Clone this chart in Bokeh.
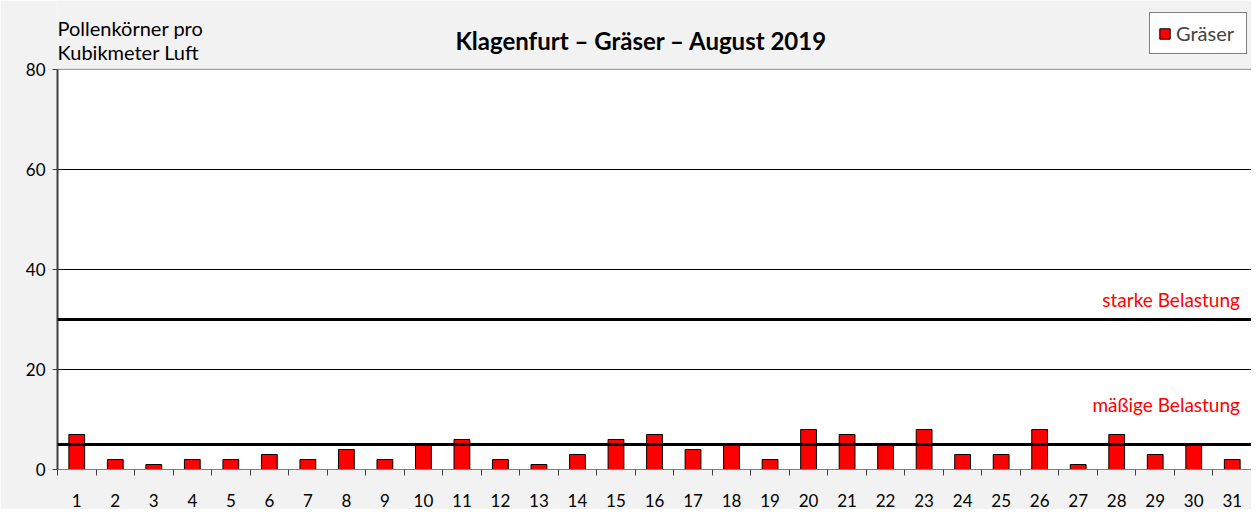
from bokeh.plotting import figure
from bokeh.models import (ColumnDataSource, FixedTicker, Span, Label, Legend, LegendItem, Range1d)
from bokeh.embed import file_html
from bokeh.resources import INLINE

days = list(range(1, 32))
graeser = [7, 2, 1, 2, 2, 3, 2, 4, 2, 5, 6, 2, 1, 3, 6, 7, 4, 5, 2, 8,
           7, 5, 8, 3, 3, 8, 1, 7, 3, 5, 2]
y_ticks = [0, 20, 40, 60, 80]
y_max = 80
thresholds = [30, 5]
threshold_labels = ["starke Belastung", "mäßige Belastung"]
title_text = "Klagenfurt – Gräser – August 2019"
ylabel_lines = ["Pollenkörner pro", "Kubikmeter Luft"]

FONT = "Lato"
BG = "#F2F2F2"

W, H = 1251, 509
LEFT, BOTTOM = 57, 39
FRAME_H = H - BOTTOM          # frame reaches the top of the figure
PLOT_H = 401                  # px between 0 and 80
y_top = y_max * FRAME_H / PLOT_H

p = figure(width=W, height=H, output_backend="svg", toolbar_location=None,
           x_range=Range1d(0.5, 31.5), y_range=Range1d(0, y_top),
           min_border_left=LEFT, min_border_right=0, min_border_top=0, min_border_bottom=BOTTOM)
p.background_fill_color = BG
p.border_fill_color = BG
p.outline_line_color = None

# white plotting area
p.quad(left=[0.5], right=[31.5], bottom=[0], top=[y_max], fill_color="white",
       line_color="#8C8C8C", line_width=1, level="image")

src = ColumnDataSource(dict(x=days, top=graeser))
r = p.vbar(x="x", top="top", width=0.41, bottom=0, source=src,
           fill_color="#FF0000", line_color="black", line_width=1)

# axes
p.xaxis.ticker = FixedTicker(ticks=days, minor_ticks=[d + 0.5 for d in range(0, 32)])
p.xaxis.major_tick_line_color = None
p.xaxis.minor_tick_line_color = "#404040"
p.xaxis.minor_tick_out = 6
p.xaxis.minor_tick_in = 0
p.xaxis.axis_line_color = "#808080"
p.xaxis.major_label_standoff = 18
p.xaxis.major_label_text_font = FONT
p.xaxis.major_label_text_font_size = "17px"
p.xaxis.major_label_text_color = "black"

p.yaxis.ticker = FixedTicker(ticks=y_ticks)
p.yaxis.bounds = (0, y_max)
p.yaxis.minor_tick_line_color = None
p.yaxis.major_tick_out = 5
p.yaxis.major_tick_in = 0
p.yaxis.major_tick_line_color = "#404040"
p.yaxis.axis_line_color = "#404040"
p.yaxis.axis_line_width = 2
p.yaxis.major_label_standoff = 7
p.yaxis.major_label_text_font = FONT
p.yaxis.major_label_text_font_size = "17px"
p.yaxis.major_label_text_color = "black"

p.xgrid.grid_line_color = None
p.ygrid.ticker = FixedTicker(ticks=[20, 40, 60])
p.ygrid.grid_line_color = "black"
p.ygrid.grid_line_width = 1

for t in thresholds:
    p.add_layout(Span(location=t, dimension="width", line_color="black", line_width=3))

for t, lab, dy in zip(thresholds, threshold_labels, [3.9, 8.0]):
    p.add_layout(Label(x=31.2, y=t + dy, text=lab, text_align="right", text_baseline="middle",
                       text_color="#FF0000", text_font=FONT, text_font_size="19px"))

p.add_layout(Label(x=15.66, y=85.7, text=title_text, text_align="center", text_baseline="middle",
                   text_font=FONT, text_font_style="bold", text_font_size="24px", text_color="black"))

for txt, yy in zip(ylabel_lines, [88.2, 83.4]):
    p.add_layout(Label(x=0.5, y=yy, text=txt, text_align="left", text_baseline="middle",
                       text_font=FONT, text_font_size="20px", text_color="black"))

legend = Legend(items=[LegendItem(label="Gräser", renderers=[r])], location=(1092, 415),
                label_text_font=FONT, label_text_font_size="20px",
                border_line_color="black", border_line_width=1,
                background_fill_color="white", background_fill_alpha=1,
                padding=8, spacing=0, margin=0, glyph_width=13, glyph_height=13,
                label_standoff=5, label_height=19, label_width=62)
p.add_layout(legend)

open("out.html", "w").write(file_html(p, INLINE))
